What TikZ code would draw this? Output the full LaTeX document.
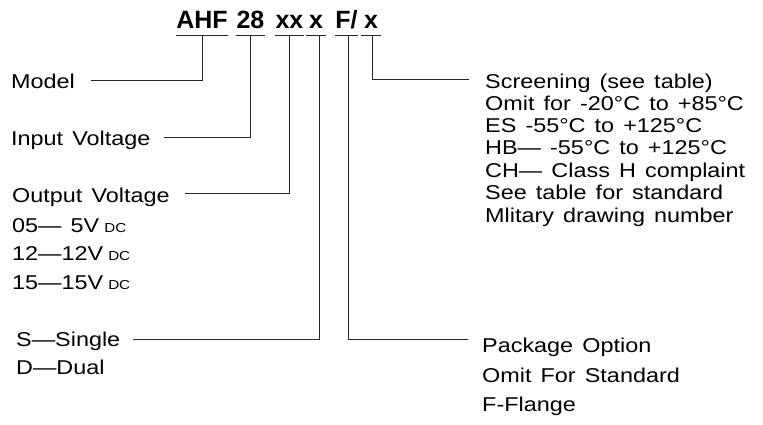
\documentclass[tikz,border=0pt]{standalone}
\usepackage{fontspec}
\setmainfont{Liberation Sans}[FakeStretch=1.17,WordSpace=1.4]
\newfontfamily\codefont{Liberation Sans}
\usetikzlibrary{positioning}
\tikzset{
  lbl/.style={inner sep=0pt, anchor=base west, font=\fontsize{20}{22}\selectfont},
  code/.style={inner sep=0pt, anchor=base, font=\codefont\bfseries\fontsize{25}{25}\selectfont},
  lead/.style={line width=0.8pt, black!85},
}
\newcommand{\vdc}{\hspace{5pt}{\fontsize{13}{13}\selectfont DC}}

\begin{document}
\begin{tikzpicture}[x=1pt,y=-1pt]
  \useasboundingbox (0,0) rectangle (763,424);
  % part number
  \node[code, minimum width=50pt] (ahf)  at (202,28)   {AHF};
  \node[code, minimum width=27pt] (vin)  at (250.5,28) {28};
  \node[code, minimum width=27pt] (vout) at (289.5,28) {xx};
  \node[code, minimum width=20pt] (conf) at (316,28)   {x};
  \node[code, minimum width=21pt] (pkg)  at (346.5,28) {F/};
  \node[code, minimum width=20pt] (scr)  at (371,28)   {x};
  \foreach \p in {ahf,vin,vout,conf,pkg,scr}
    \draw[lead] ([yshift=-7pt]\p.base west) -- ([yshift=-7pt]\p.base east); %underline
  % left labels
  \node[lbl] (model)  at (11,88)  {Model};
  \node[lbl] (input)  at (11,145) {Input Voltage};
  \node[lbl] (output) at (12,202) {Output Voltage};
  \node[lbl] (out05)  at (12,232) {05— 5V\vdc};
  \node[lbl] (out12)  at (12,260.5) {12—12V\vdc};
  \node[lbl] (out15)  at (12,289) {15—15V\vdc};
  \node[lbl] (single) at (16,346) {S—Single};
  \node[lbl] (dual)   at (16,374) {D—Dual};
  % right labels
  \node[lbl] (package) at (482,352) {Package Option};
  \node[lbl] (pkgstd)  at (482,382) {Omit For Standard};
  \node[lbl] (pkgfl)   at (482,411) {F-Flange};
  \node[lbl] (screen)  at (485,88)  {Screening (see table)};
  \node[lbl] (scr1)    at (485,110) {Omit for -20°C to +85°C};
  \node[lbl] (scr2)    at (485,132) {ES -55°C to +125°C};
  \node[lbl] (scr3)    at (485,154.5) {HB— -55°C to +125°C};
  \node[lbl] (scr4)    at (485,177) {CH— Class H complaint};
  \node[lbl] (scr5)    at (485,199.5) {See table for standard};
  \node[lbl] (scr6)    at (485,222) {Mlitary drawing number};
  % leaders
  \draw[lead] ([yshift=-7pt]ahf.base)  |- ([xshift=16pt,yshift=7.5pt]model.base east);
  \draw[lead] ([yshift=-7pt]vin.base)  |- ([xshift=13pt,yshift=8pt]input.base east);
  \draw[lead] ([yshift=-7pt]vout.base) |- ([xshift=15pt,yshift=8.5pt]output.base east);
  \draw[lead] ([xshift=3pt,yshift=-7pt]conf.base) |- ([xshift=13pt,yshift=7pt]single.base east);
  \draw[lead] ([xshift=1.5pt,yshift=-7pt]pkg.base) |- ([xshift=-14pt,yshift=13pt]package.base west);
  \draw[lead] ([xshift=1.5pt,yshift=-7pt]scr.base) |- ([xshift=-16pt,yshift=9pt]screen.base west);
\end{tikzpicture}
\end{document}
